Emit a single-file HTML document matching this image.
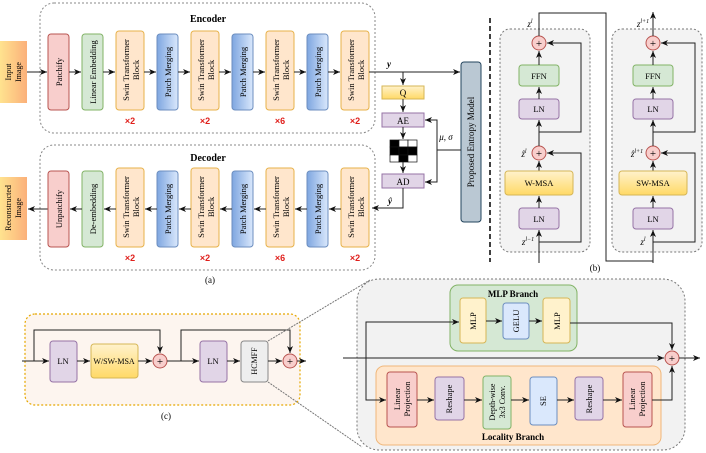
<!DOCTYPE html>
<html><head><meta charset="utf-8"><style>
body{margin:0;background:#fff}
svg{display:block;font-family:"Liberation Serif",serif}
</style></head><body>
<svg width="706" height="453" viewBox="0 0 706 453" xmlns="http://www.w3.org/2000/svg">
<defs>
<marker id="a" markerWidth="8" markerHeight="8" refX="7" refY="4" orient="auto" markerUnits="userSpaceOnUse"><path d="M0,1 L7,4 L0,7 L2,4 z" fill="#111"/></marker>
<linearGradient id="io" x1="0" y1="0" x2="1" y2="0"><stop offset="0" stop-color="#ffe38f"/><stop offset="1" stop-color="#fbb07a"/></linearGradient>
<linearGradient id="bl" x1="0" y1="0" x2="1" y2="0"><stop offset="0" stop-color="#7ea6e0"/><stop offset="1" stop-color="#dae8fc"/></linearGradient>
<linearGradient id="yl" x1="0" y1="0" x2="0" y2="1"><stop offset="0" stop-color="#fff2cc"/><stop offset="1" stop-color="#ffd966"/></linearGradient>
</defs>
<g font-size="9" text-anchor="middle">
<!-- Encoder -->
<rect x="40" y="3" width="335" height="130" rx="14" fill="#fff" stroke="#888" stroke-dasharray="2,2"/>
<text x="208" y="22" font-weight="bold" font-size="10">Encoder</text>
<rect x="0" y="41" width="27" height="62" fill="url(#io)"/>
<text transform="translate(13,72) rotate(-90)" font-size="8"><tspan x="0" y="-2">Input</tspan><tspan x="0" y="8">Image</tspan></text>
<line x1="27" y1="72" x2="47" y2="72" stroke="#222" marker-end="url(#a)"/>
<!-- Decoder -->
<rect x="40" y="145" width="335" height="125" rx="14" fill="#fff" stroke="#888" stroke-dasharray="2,2"/>
<text x="208" y="161" font-weight="bold" font-size="10">Decoder</text>
<rect x="0" y="177" width="27" height="63" fill="url(#io)"/>
<text transform="translate(13,208) rotate(-90)" font-size="8"><tspan x="0" y="-2">Reconstructed</tspan><tspan x="0" y="8">Image</tspan></text>
<line x1="48" y1="209" x2="28" y2="209" stroke="#222" marker-end="url(#a)"/>
<text x="210" y="283">(a)</text>
</g>
<g id="enc" font-size="8.5" text-anchor="middle">
<rect x="48" y="34" width="21" height="76" rx="3" fill="#f8cecc" stroke="#b85450"/>
<rect x="82" y="34" width="21" height="76" rx="3" fill="#d5e8d4" stroke="#82b366"/>
<rect x="116" y="31" width="28" height="79" rx="3" fill="#ffe6cc" stroke="#e7b24a"/>
<rect x="157" y="34" width="21" height="76" rx="3" fill="url(#bl)" stroke="#6c8ebf"/>
<rect x="191" y="31" width="28" height="79" rx="3" fill="#ffe6cc" stroke="#e7b24a"/>
<rect x="232" y="34" width="21" height="76" rx="3" fill="url(#bl)" stroke="#6c8ebf"/>
<rect x="266" y="31" width="28" height="79" rx="3" fill="#ffe6cc" stroke="#e7b24a"/>
<rect x="307" y="34" width="21" height="76" rx="3" fill="url(#bl)" stroke="#6c8ebf"/>
<rect x="341" y="31" width="28" height="79" rx="3" fill="#ffe6cc" stroke="#e7b24a"/>
<g stroke="#222" marker-end="url(#a)">
<line x1="69" y1="72" x2="81" y2="72"/><line x1="103" y1="72" x2="115" y2="72"/><line x1="144" y1="72" x2="156" y2="72"/><line x1="178" y1="72" x2="190" y2="72"/><line x1="219" y1="72" x2="231" y2="72"/><line x1="253" y1="72" x2="265" y2="72"/><line x1="294" y1="72" x2="306" y2="72"/><line x1="328" y1="72" x2="340" y2="72"/>
</g>
<text transform="translate(62,72) rotate(-90)" y="0">Patchify</text>
<text transform="translate(96,72) rotate(-90)" y="0">Linear Embedding</text>
<text transform="translate(132,70) rotate(-90)"><tspan x="0" y="-3">Swin Transformer</tspan><tspan x="0" y="7">Block</tspan></text>
<text transform="translate(171,72) rotate(-90)">Patch Merging</text>
<text transform="translate(207,70) rotate(-90)"><tspan x="0" y="-3">Swin Transformer</tspan><tspan x="0" y="7">Block</tspan></text>
<text transform="translate(246,72) rotate(-90)">Patch Merging</text>
<text transform="translate(282,70) rotate(-90)"><tspan x="0" y="-3">Swin Transformer</tspan><tspan x="0" y="7">Block</tspan></text>
<text transform="translate(321,72) rotate(-90)">Patch Merging</text>
<text transform="translate(357,70) rotate(-90)"><tspan x="0" y="-3">Swin Transformer</tspan><tspan x="0" y="7">Block</tspan></text>
<g fill="#e0201c" font-family="Liberation Sans,sans-serif" font-size="9" font-weight="bold"><text x="130" y="124">×2</text><text x="205" y="124">×2</text><text x="280" y="124">×6</text><text x="355" y="124">×2</text></g>
</g>
<g font-size="8.5" text-anchor="middle">
<rect x="48" y="171" width="21" height="76" rx="3" fill="#f8cecc" stroke="#b85450"/>
<rect x="82" y="171" width="21" height="76" rx="3" fill="#d5e8d4" stroke="#82b366"/>
<rect x="116" y="168" width="28" height="79" rx="3" fill="#ffe6cc" stroke="#e7b24a"/>
<rect x="157" y="171" width="21" height="76" rx="3" fill="url(#bl)" stroke="#6c8ebf"/>
<rect x="191" y="168" width="28" height="79" rx="3" fill="#ffe6cc" stroke="#e7b24a"/>
<rect x="232" y="171" width="21" height="76" rx="3" fill="url(#bl)" stroke="#6c8ebf"/>
<rect x="266" y="168" width="28" height="79" rx="3" fill="#ffe6cc" stroke="#e7b24a"/>
<rect x="307" y="171" width="21" height="76" rx="3" fill="url(#bl)" stroke="#6c8ebf"/>
<rect x="341" y="168" width="28" height="79" rx="3" fill="#ffe6cc" stroke="#e7b24a"/>
<g stroke="#222" marker-end="url(#a)">
<line x1="82" y1="209" x2="70" y2="209"/><line x1="116" y1="209" x2="104" y2="209"/><line x1="157" y1="209" x2="145" y2="209"/><line x1="191" y1="209" x2="179" y2="209"/><line x1="232" y1="209" x2="220" y2="209"/><line x1="266" y1="209" x2="254" y2="209"/><line x1="307" y1="209" x2="295" y2="209"/><line x1="341" y1="209" x2="329" y2="209"/>
</g>
<text transform="translate(62,209) rotate(-90)">Unpatchify</text>
<text transform="translate(96,209) rotate(-90)">De-embedding</text>
<text transform="translate(132,207) rotate(-90)"><tspan x="0" y="-3">Swin Transformer</tspan><tspan x="0" y="7">Block</tspan></text>
<text transform="translate(171,209) rotate(-90)">Patch Merging</text>
<text transform="translate(207,207) rotate(-90)"><tspan x="0" y="-3">Swin Transformer</tspan><tspan x="0" y="7">Block</tspan></text>
<text transform="translate(246,209) rotate(-90)">Patch Merging</text>
<text transform="translate(282,207) rotate(-90)"><tspan x="0" y="-3">Swin Transformer</tspan><tspan x="0" y="7">Block</tspan></text>
<text transform="translate(321,209) rotate(-90)">Patch Merging</text>
<text transform="translate(357,207) rotate(-90)"><tspan x="0" y="-3">Swin Transformer</tspan><tspan x="0" y="7">Block</tspan></text>
<g fill="#e0201c" font-family="Liberation Sans,sans-serif" font-size="9" font-weight="bold"><text x="130" y="261">×2</text><text x="205" y="261">×2</text><text x="280" y="261">×6</text><text x="355" y="261">×2</text></g>
</g>
<!-- middle -->
<g font-size="9" text-anchor="middle">
<line x1="369" y1="72" x2="460" y2="72" stroke="#222" marker-end="url(#a)"/>
<text x="389" y="67" font-style="italic" font-weight="bold">y</text>
<line x1="403" y1="72" x2="403" y2="85" stroke="#222" marker-end="url(#a)"/>
<rect x="382" y="86" width="42" height="13" fill="url(#yl)" stroke="#d6b656"/><text x="403" y="96">Q</text>
<line x1="403" y1="99" x2="403" y2="112" stroke="#222" marker-end="url(#a)"/>
<rect x="382" y="113" width="42" height="14" fill="#e1d5e7" stroke="#9673a6"/><text x="403" y="124">AE</text>
<line x1="403" y1="127" x2="403" y2="139" stroke="#222" marker-end="url(#a)"/>
<g stroke="#111" stroke-width="0.7">
<rect x="390" y="140" width="9" height="7" fill="#000"/><rect x="399" y="140" width="9" height="7" fill="#fff"/><rect x="408" y="140" width="9" height="7" fill="#fff"/>
<rect x="390" y="147" width="9" height="8" fill="#000"/><rect x="399" y="147" width="9" height="8" fill="#000"/><rect x="408" y="147" width="9" height="8" fill="#000"/>
<rect x="390" y="155" width="9" height="7" fill="#fff"/><rect x="399" y="155" width="9" height="7" fill="#000"/><rect x="408" y="155" width="9" height="7" fill="#fff"/>
</g>
<line x1="403" y1="162" x2="403" y2="173" stroke="#222" marker-end="url(#a)"/>
<rect x="382" y="174" width="42" height="14" fill="#e1d5e7" stroke="#9673a6"/><text x="403" y="185">AD</text>
<polyline points="403,188 403,208 372,208" fill="none" stroke="#222" marker-end="url(#a)"/>
<text x="390" y="204" font-style="italic" font-weight="bold">ŷ</text>
<rect x="461" y="62" width="20" height="160" rx="3" fill="#bac8d3" stroke="#23445d"/>
<text transform="translate(474,142) rotate(-90)" font-size="9">Proposed Entropy Model</text>
<polyline points="461,150 437,150 437,120 425,120" fill="none" stroke="#222" marker-end="url(#a)"/>
<polyline points="437,150 437,182 425,182" fill="none" stroke="#222" marker-end="url(#a)"/>
<text x="446" y="140" font-style="italic">μ, σ</text>
<line x1="490" y1="18" x2="490" y2="262" stroke="#111" stroke-width="1.6" stroke-dasharray="5,3"/>
</g>
<!-- (b) -->
<g font-size="8.5" text-anchor="middle">
<rect x="500" y="29" width="90" height="223" rx="10" fill="#f3f3f3" stroke="#777" stroke-dasharray="2,2"/>
<rect x="612" y="29" width="90" height="223" rx="10" fill="#f3f3f3" stroke="#777" stroke-dasharray="2,2"/>
<g id="blk">
<line x1="539" y1="263" x2="539" y2="230" stroke="#222" marker-end="url(#a)"/>
<rect x="519" y="208" width="40" height="21" rx="3" fill="#e1d5e7" stroke="#9673a6"/><text x="539" y="222">LN</text>
<line x1="539" y1="208" x2="539" y2="196" stroke="#222" marker-end="url(#a)"/>
<line x1="539" y1="171" x2="539" y2="161" stroke="#222" marker-end="url(#a)"/>
<circle cx="539" cy="153" r="7" fill="#f8cecc" stroke="#b85450"/><text x="539" y="157" font-size="11">+</text>
<polyline points="539,242 581,242 581,153 547,153" fill="none" stroke="#222" marker-end="url(#a)"/>
<line x1="539" y1="146" x2="539" y2="120" stroke="#222" marker-end="url(#a)"/>
<rect x="519" y="99" width="40" height="20" rx="3" fill="#e1d5e7" stroke="#9673a6"/><text x="539" y="112">LN</text>
<line x1="539" y1="99" x2="539" y2="87" stroke="#222" marker-end="url(#a)"/>
<rect x="519" y="65" width="40" height="21" rx="3" fill="#d5e8d4" stroke="#82b366"/><text x="539" y="79">FFN</text>
<line x1="539" y1="65" x2="539" y2="51" stroke="#222" marker-end="url(#a)"/>
<circle cx="539" cy="43" r="7" fill="#f8cecc" stroke="#b85450"/><text x="539" y="47" font-size="11">+</text>
<polyline points="539,132 581,132 581,43 547,43" fill="none" stroke="#222" marker-end="url(#a)"/>
</g>
<rect x="505" y="171" width="68" height="24" rx="3" fill="url(#yl)" stroke="#d6b656"/><text x="539" y="186">W-MSA</text>
<use href="#blk" transform="translate(114,0)"/>
<rect x="619" y="171" width="68" height="24" rx="3" fill="url(#yl)" stroke="#d6b656"/><text x="653" y="186">SW-MSA</text>
<polyline points="539,36 539,13 606,13 606,261 653,261" fill="none" stroke="#222"/>
<line x1="653" y1="36" x2="653" y2="12" stroke="#222" marker-end="url(#a)"/>
<g font-style="italic" font-size="9">
<text x="530" y="27">z<tspan dy="-4" font-size="6">l</tspan></text>
<text x="643" y="27">z<tspan dy="-4" font-size="6">l+1</tspan></text>
<text x="524" y="157">ẑ<tspan dy="-4" font-size="6">l</tspan></text>
<text x="637" y="157">ẑ<tspan dy="-4" font-size="6">l+1</tspan></text>
<text x="528" y="245">z<tspan dy="-4" font-size="6">l−1</tspan></text>
<text x="643" y="245">z<tspan dy="-4" font-size="6">l</tspan></text>
</g>
<text x="595" y="271" font-size="9">(b)</text>
</g>
<!-- (c) -->
<g font-size="8.5" text-anchor="middle">
<rect x="25" y="314" width="275" height="91" rx="10" fill="#fdf5ef" stroke="#e6a800" stroke-width="1.2" stroke-dasharray="2,2"/>
<line x1="22" y1="361" x2="49" y2="361" stroke="#222" marker-end="url(#a)"/>
<rect x="50" y="341" width="27" height="41" rx="3" fill="#e1d5e7" stroke="#9673a6"/><text x="63" y="364">LN</text>
<line x1="77" y1="361" x2="90" y2="361" stroke="#222" marker-end="url(#a)"/>
<rect x="91" y="344" width="47" height="34" rx="3" fill="url(#yl)" stroke="#d6b656"/><text x="114" y="364" font-size="8">W/SW-MSA</text>
<line x1="138" y1="361" x2="152" y2="361" stroke="#222" marker-end="url(#a)"/>
<circle cx="160" cy="361" r="7" fill="#f8cecc" stroke="#b85450"/><text x="160" y="365" font-size="11">+</text>
<polyline points="34,361 34,330 160,330 160,353" fill="none" stroke="#222" marker-end="url(#a)"/>
<line x1="167" y1="361" x2="199" y2="361" stroke="#222" marker-end="url(#a)"/>
<rect x="200" y="341" width="27" height="41" rx="3" fill="#e1d5e7" stroke="#9673a6"/><text x="213" y="364">LN</text>
<line x1="227" y1="361" x2="240" y2="361" stroke="#222" marker-end="url(#a)"/>
<rect x="241" y="341" width="27" height="41" rx="3" fill="#eee" stroke="#888"/>
<text transform="translate(257,361) rotate(-90)" font-size="8">HCMFF</text>
<line x1="268" y1="361" x2="282" y2="361" stroke="#222" marker-end="url(#a)"/>
<circle cx="290" cy="361" r="7" fill="#f8cecc" stroke="#b85450"/><text x="290" y="365" font-size="11">+</text>
<polyline points="181,361 181,330 290,330 290,353" fill="none" stroke="#222" marker-end="url(#a)"/>
<line x1="297" y1="361" x2="306" y2="361" stroke="#222" marker-end="url(#a)"/>
<text x="166" y="419" font-size="9">(c)</text>
<!-- big -->
<rect x="357" y="279" width="328" height="171" rx="22" fill="#f2f2f2" stroke="#777" stroke-dasharray="2,2"/>
<line x1="268" y1="341" x2="370" y2="280" stroke="#777" stroke-dasharray="2,1"/>
<line x1="268" y1="382" x2="362" y2="447" stroke="#777" stroke-dasharray="2,1"/>
<rect x="450" y="285" width="127" height="66" rx="8" fill="#d5e8d4" stroke="#82b366"/>
<text x="513" y="297" font-weight="bold" font-size="9">MLP Branch</text>
<rect x="376" y="366" width="285" height="79" rx="8" fill="#ffe6cc" stroke="#f0b77a"/>
<text x="513" y="440" font-weight="bold" font-size="9">Locality Branch</text>
<line x1="343" y1="358" x2="664" y2="358" stroke="#222" marker-end="url(#a)"/>
<circle cx="672" cy="358" r="7" fill="#f8cecc" stroke="#b85450"/><text x="672" y="362" font-size="11">+</text>
<line x1="679" y1="358" x2="700" y2="358" stroke="#222" marker-end="url(#a)"/>
<polyline points="366,358 366,322 459,322" fill="none" stroke="#222" marker-end="url(#a)"/>
<polyline points="366,358 366,400 386,400" fill="none" stroke="#222" marker-end="url(#a)"/>
<rect x="460" y="298" width="26" height="45" rx="3" fill="#fff2cc" stroke="#d6b656"/><text transform="translate(476,321) rotate(-90)">MLP</text>
<line x1="486" y1="321" x2="502" y2="321" stroke="#222" marker-end="url(#a)"/>
<rect x="503" y="303" width="26" height="36" rx="3" fill="#dae8fc" stroke="#6c8ebf"/><text transform="translate(519,321) rotate(-90)">GELU</text>
<line x1="529" y1="321" x2="542" y2="321" stroke="#222" marker-end="url(#a)"/>
<rect x="543" y="298" width="27" height="45" rx="3" fill="#fff2cc" stroke="#d6b656"/><text transform="translate(560,321) rotate(-90)">MLP</text>
<polyline points="570,323 672,323 672,350" fill="none" stroke="#222" marker-end="url(#a)"/>
<rect x="387" y="372" width="30" height="55" rx="3" fill="#f8cecc" stroke="#b85450"/>
<text transform="translate(402,399) rotate(-90)"><tspan x="0" y="-2">Linear</tspan><tspan x="0" y="8">Projection</tspan></text>
<line x1="417" y1="400" x2="434" y2="400" stroke="#222" marker-end="url(#a)"/>
<rect x="435" y="377" width="29" height="43" rx="3" fill="#e1d5e7" stroke="#9673a6"/><text transform="translate(452,399) rotate(-90)">Reshape</text>
<line x1="464" y1="400" x2="482" y2="400" stroke="#222" marker-end="url(#a)"/>
<rect x="483" y="376" width="28" height="53" rx="3" fill="#d5e8d4" stroke="#82b366"/>
<text transform="translate(497,402) rotate(-90)" font-size="8"><tspan x="0" y="-2">Depth-wise</tspan><tspan x="0" y="8">3x3 Conv.</tspan></text>
<line x1="511" y1="400" x2="529" y2="400" stroke="#222" marker-end="url(#a)"/>
<rect x="530" y="377" width="27" height="48" rx="3" fill="#dae8fc" stroke="#6c8ebf"/><text transform="translate(546,401) rotate(-90)">SE</text>
<line x1="557" y1="400" x2="574" y2="400" stroke="#222" marker-end="url(#a)"/>
<rect x="575" y="377" width="28" height="43" rx="3" fill="#e1d5e7" stroke="#9673a6"/><text transform="translate(592,399) rotate(-90)">Reshape</text>
<line x1="603" y1="400" x2="622" y2="400" stroke="#222" marker-end="url(#a)"/>
<rect x="623" y="372" width="29" height="55" rx="3" fill="#f8cecc" stroke="#b85450"/>
<text transform="translate(637,399) rotate(-90)"><tspan x="0" y="-2">Linear</tspan><tspan x="0" y="8">Projection</tspan></text>
<polyline points="652,400 672,400 672,366" fill="none" stroke="#222" marker-end="url(#a)"/>
</g>
</svg>
</body></html>
